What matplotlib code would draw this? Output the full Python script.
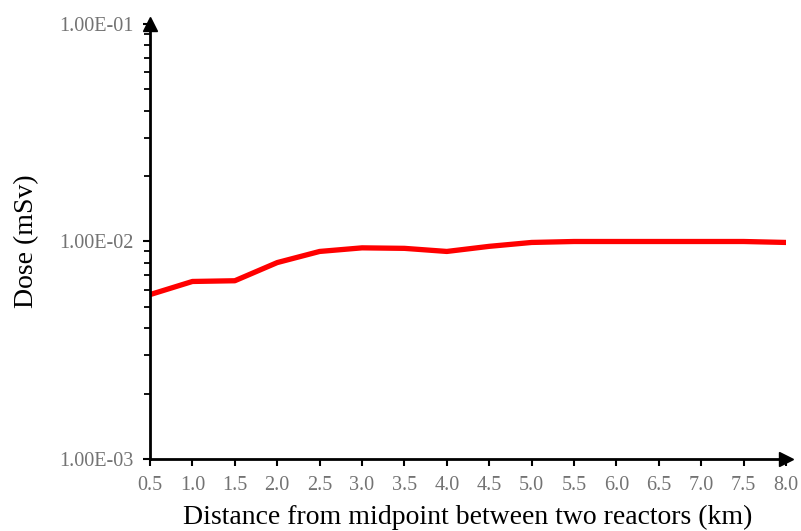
import numpy as np
from matplotlib import pyplot as plt
from matplotlib.ticker import FuncFormatter, LogLocator, NullFormatter

# distance from midpoint (km) and dose (mSv)
distance = [0.5, 1.0, 1.5, 2.0, 2.5, 3.0, 3.5, 4.0, 4.5, 5.0, 5.5, 6.0, 6.5, 7.0, 7.5, 8.0]
dose = [0.0057, 0.00655, 0.0066, 0.0080, 0.0090, 0.00935, 0.0093, 0.0090,
        0.0095, 0.0099, 0.0100, 0.0100, 0.0100, 0.0100, 0.0100, 0.0099]
x_ticks = np.arange(0.5, 8.01, 0.5)

plt.rcParams['font.family'] = ['Liberation Serif', 'DejaVu Serif']

fig = plt.figure(figsize=(8.01, 5.31), dpi=100)
ax = fig.add_axes([0.1873, 0.1356, 0.794, 0.8192])

ax.plot(distance, dose, color='#FF0000', lw=3.8, solid_capstyle='round', solid_joinstyle='round')

ax.set_yscale('log')
ax.set_ylim(1e-3, 1e-1)
ax.set_xlim(0.5, 8.0)
ax.set_xticks(x_ticks)
ax.set_xticklabels([f'{v:.1f}' for v in x_ticks])

ax.yaxis.set_major_locator(LogLocator(base=10))
ax.yaxis.set_minor_locator(LogLocator(base=10, subs=np.arange(2, 10)))
ax.yaxis.set_minor_formatter(NullFormatter())
ax.yaxis.set_major_formatter(FuncFormatter(lambda v, p: f'{v:.2E}'))

for s in ['top', 'right']:
    ax.spines[s].set_visible(False)
for s in ['left', 'bottom']:
    ax.spines[s].set_linewidth(2)

ax.tick_params(axis='both', which='major', direction='out', length=5, width=1.5,
               labelsize=14.5, labelcolor='#737373', pad=7)
ax.tick_params(axis='y', which='minor', direction='out', length=4, width=1.3)

# arrow heads on the axes
ax.plot(1, 0, '>', color='black', ms=10, transform=ax.transAxes, clip_on=False)
ax.plot(0, 1, '^', color='black', ms=10, transform=ax.transAxes, clip_on=False)

ax.set_xlabel('Distance from midpoint between two reactors (km)', fontsize=20, labelpad=7)
ax.set_ylabel('Dose (mSv)', fontsize=20, labelpad=14)

fig.savefig('out.png', dpi=100)
